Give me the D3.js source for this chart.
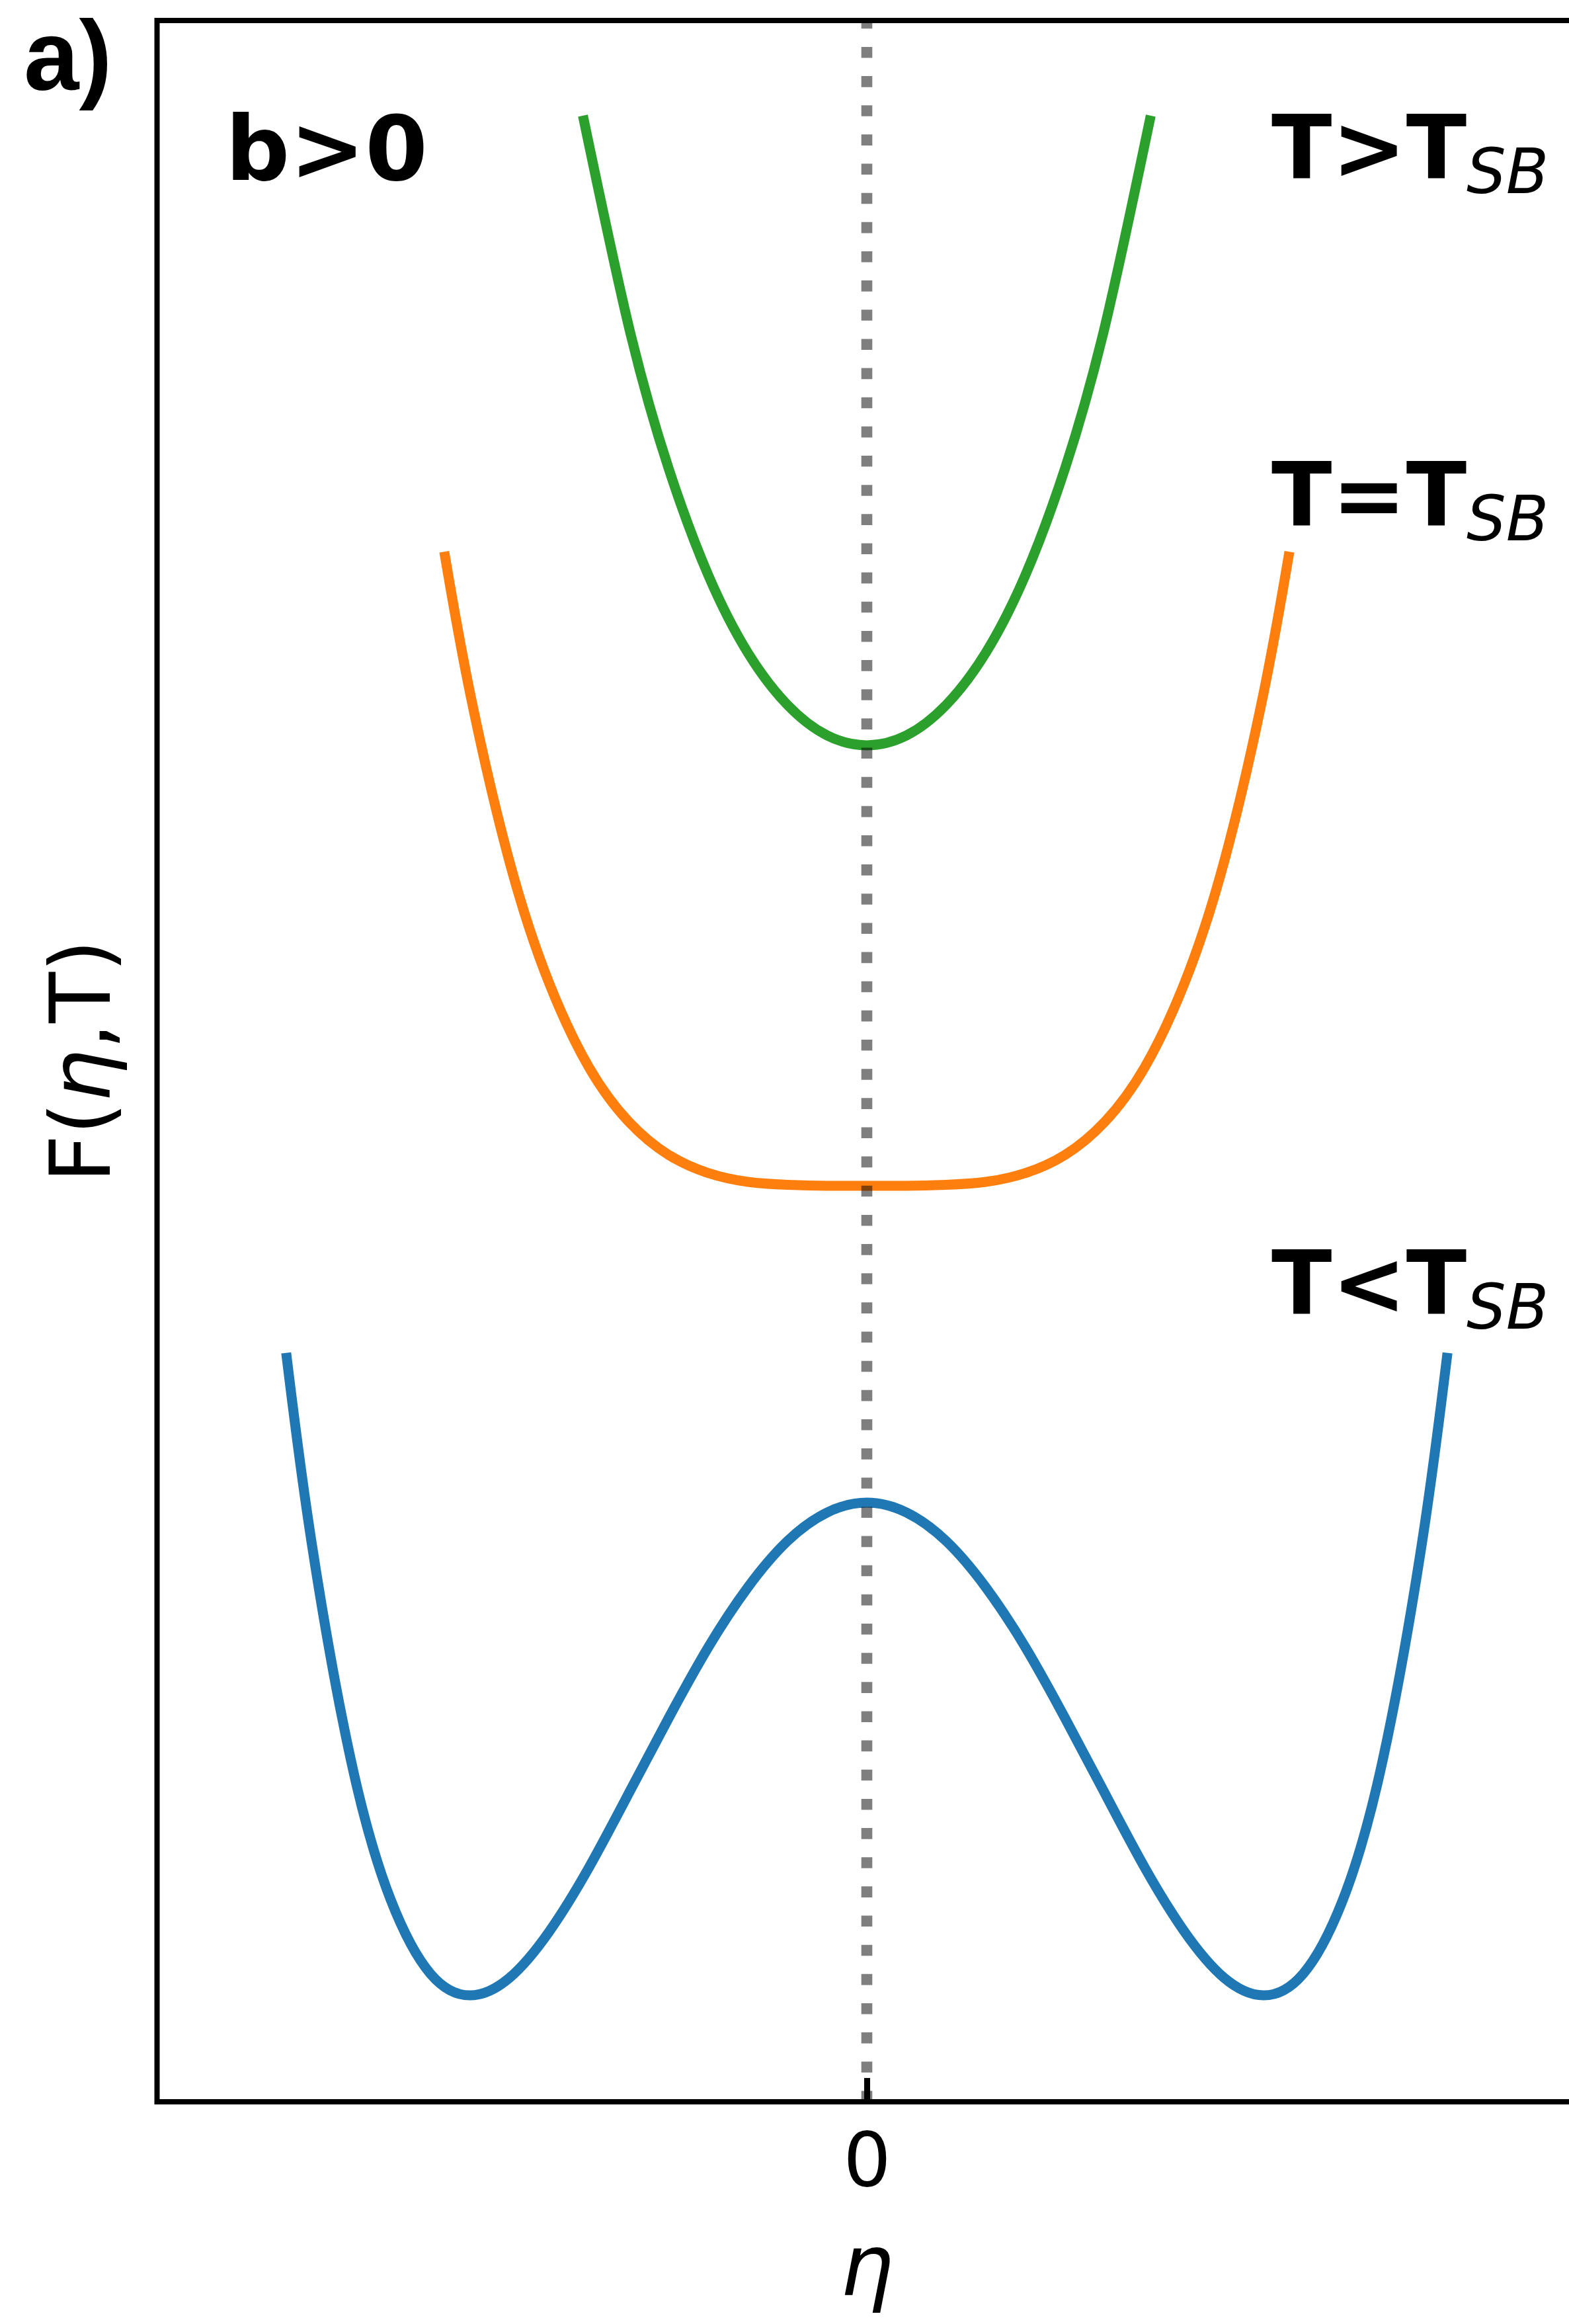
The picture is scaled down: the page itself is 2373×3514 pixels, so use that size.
<!DOCTYPE html>
<html>
<head>
<meta charset="utf-8">
<script src="https://cdn.jsdelivr.net/npm/d3@7"></script>
<style>
  html, body { margin: 0; padding: 0; background: #fff; }
  svg { display: block; }
</style>
</head>
<body>
<div id="chart"></div>
<script>
// eta samples and F(eta) values for each curve
const etaAbove = [-0.713, -0.6, -0.5, -0.4, -0.3, -0.2, -0.1, 0, 0.1, 0.2, 0.3, 0.4, 0.5, 0.6, 0.713];
const fAbove = [2.805, 2.387, 2.100, 1.883, 1.725, 1.619, 1.557, 1.537, 1.557, 1.619, 1.725, 1.883, 2.100, 2.387, 2.805];

const etaAt = [-1.063, -1.0, -0.9, -0.8, -0.7, -0.6, -0.5, -0.4, -0.3, -0.2, -0.1, 0,
               0.1, 0.2, 0.3, 0.4, 0.5, 0.6, 0.7, 0.8, 0.9, 1.0, 1.063];
const fAt = [1.920, 1.643, 1.299, 1.053, 0.883, 0.773, 0.706, 0.669, 0.651, 0.645, 0.643, 0.643,
             0.643, 0.645, 0.651, 0.669, 0.706, 0.773, 0.883, 1.053, 1.299, 1.643, 1.920];

const etaBelow = [-1.462, -1.4, -1.3, -1.2, -1.1, -1.0, -0.9, -0.8, -0.7, -0.6, -0.5, -0.4, -0.3, -0.2, -0.1, 0,
                  0.1, 0.2, 0.3, 0.4, 0.5, 0.6, 0.7, 0.8, 0.9, 1.0, 1.1, 1.2, 1.3, 1.4, 1.462];
const fBelow = [0.294, -0.078, -0.524, -0.806, -0.956, -1.000, -0.964, -0.870, -0.740, -0.590, -0.438, -0.294, -0.172, -0.078, -0.020, 0,
                -0.020, -0.078, -0.172, -0.294, -0.438, -0.590, -0.740, -0.870, -0.964, -1.000, -0.956, -0.806, -0.524, -0.078, 0.294];

const xTicks = [0];
const xDomain = [-1.789, 1.789];
const yDomain = [-1.216, 3.008];

const W = 2373, H = 3514;
const margin = { top: 31, left: 237.5, right: -11.5, bottom: 336 };

const svg = d3.select("#chart").append("svg")
    .attr("width", W)
    .attr("height", H)
    .style("background", "#fff");

const x = d3.scaleLinear()
    .domain(xDomain)
    .range([margin.left, W - margin.right]);

const y = d3.scaleLinear()
    .domain(yDomain)
    .range([H - margin.bottom, margin.top]);

const line = d3.line()
    .x(d => x(d[0]))
    .y(d => y(d[1]))
    .curve(d3.curveNatural);

const series = [
    { eta: etaBelow, f: fBelow, color: "#1f77b4" },
    { eta: etaAt, f: fAt, color: "#ff7f0e" },
    { eta: etaAbove, f: fAbove, color: "#2ca02c" }
];

// curves
svg.append("g")
    .selectAll("path")
    .data(series)
    .join("path")
    .attr("d", s => line(s.eta.map((e, i) => [e, s.f[i]])))
    .attr("fill", "none")
    .attr("stroke", s => s.color)
    .attr("stroke-width", 15)
    .attr("stroke-linecap", "square")
    .attr("stroke-linejoin", "round");

// dotted line at eta = 0, dashes start from the bottom
svg.append("line")
    .attr("x1", x(0)).attr("x2", x(0))
    .attr("y1", y.range()[0]).attr("y2", y.range()[1])
    .attr("stroke", "#000")
    .attr("stroke-opacity", 0.5)
    .attr("stroke-width", 16.6)
    .attr("stroke-dasharray", "16.6,27.55");

// x axis, one inward tick
const xAxis = svg.append("g")
    .attr("transform", `translate(0,${y.range()[0]})`)
    .call(d3.axisBottom(x).tickValues(xTicks).tickSizeInner(-36).tickSizeOuter(0).tickPadding(46).tickFormat(d3.format("d")));
xAxis.select(".domain").remove();
xAxis.selectAll(".tick line")
    .attr("stroke", "#000")
    .attr("stroke-width", 9);
xAxis.selectAll(".tick text")
    .attr("fill", "#000")
    .attr("font-family", "DejaVu Sans")
    .attr("font-size", 114);

// frame
svg.append("rect")
    .attr("x", x.range()[0])
    .attr("y", y.range()[1])
    .attr("width", x.range()[1] - x.range()[0])
    .attr("height", y.range()[0] - y.range()[1])
    .attr("fill", "none")
    .attr("stroke", "#000")
    .attr("stroke-width", 8);

// axis titles
svg.append("text")
    .attr("x", x(0))
    .attr("y", 3470)
    .attr("text-anchor", "middle")
    .attr("font-family", "DejaVu Sans")
    .attr("font-style", "italic")
    .attr("font-size", 128)
    .text("η");

const yTitle = svg.append("text")
    .attr("transform", `translate(166,${(y.range()[0] + y.range()[1]) / 2}) rotate(-90)`)
    .attr("text-anchor", "middle")
    .attr("font-family", "DejaVu Sans")
    .attr("font-size", 126);
yTitle.append("tspan").text("F(");
yTitle.append("tspan").attr("font-style", "italic").text("η");
yTitle.append("tspan").text(",T)");

// annotations
svg.append("text")
    .attr("x", 341)
    .attr("y", 272)
    .attr("font-family", "DejaVu Sans")
    .attr("font-weight", "bold")
    .attr("font-size", 136)
    .text("b>0");

const tempLabels = [
    { text: "T>T", baseline: 270 },
    { text: "T=T", baseline: 795 },
    { text: "T<T", baseline: 1987 }
];
tempLabels.forEach(l => {
    const t = svg.append("text")
        .attr("x", 1923)
        .attr("y", l.baseline)
        .attr("font-family", "DejaVu Sans")
        .attr("font-size", 134);
    t.append("tspan").attr("font-weight", "bold").text(l.text);
    t.append("tspan")
        .attr("font-style", "italic")
        .attr("font-size", 94)
        .attr("dy", 22)
        .text("SB");
});

// panel letter
svg.append("text")
    .attr("x", 36)
    .attr("y", 136)
    .attr("font-family", "Liberation Sans")
    .attr("font-weight", "bold")
    .attr("font-size", 150)
    .text("a)");
</script>
</body>
</html>
